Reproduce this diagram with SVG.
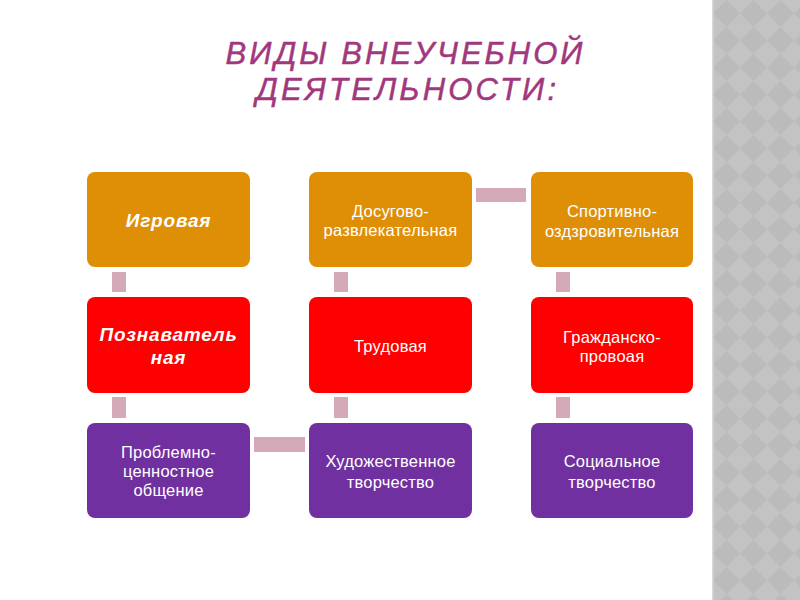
<svg xmlns="http://www.w3.org/2000/svg" width="800" height="600" viewBox="0 0 800 600">
<defs>
<style>
.box{stroke:none}
.or{fill:#de8f06}
.rd{fill:#fe0000}
.pu{fill:#7030a0}
.t{font-family:"Liberation Sans",Arial,sans-serif;font-size:16.5px;fill:#ffffff;text-anchor:middle;letter-spacing:0.2px}
.bi{font-weight:bold;font-style:italic;font-size:19px;letter-spacing:0.8px}
.title{font-family:"Liberation Sans",Arial,sans-serif;font-style:italic;font-size:31px;fill:#a1377d;stroke:#a1377d;stroke-width:0.5px;text-anchor:middle}
.con{fill:#d4aab8}
</style>
<pattern id="dia" width="27" height="27" patternUnits="userSpaceOnUse" x="713" y="0">
<rect width="27" height="27" fill="#c3c3c3"/>
<path d="M13.5 0 L27 13.5 L13.5 27 L0 13.5 Z" fill="#bbbbbb"/>
</pattern>
</defs>
<rect width="800" height="600" fill="#ffffff"/>
<rect x="713" y="0" width="87" height="600" fill="url(#dia)"/>
<rect x="712" y="0" width="1.5" height="600" fill="#d8d8d8"/>
<g id="title">
<text class="title" x="404" y="64" textLength="357" lengthAdjust="spacing">ВИДЫ ВНЕУЧЕБНОЙ</text>
<text class="title" x="406" y="100" textLength="300" lengthAdjust="spacing">ДЕЯТЕЛЬНОСТИ:</text>
</g>
<g id="connectors">
<rect class="con" x="112" y="272" width="14" height="20"/>
<rect class="con" x="112" y="397" width="14" height="21"/>
<rect class="con" x="254" y="437" width="51" height="15"/>
<rect class="con" x="334" y="272" width="14" height="20"/>
<rect class="con" x="334" y="397" width="14" height="21"/>
<rect class="con" x="476" y="188" width="50" height="14"/>
<rect class="con" x="556" y="272" width="14" height="20"/>
<rect class="con" x="556" y="397" width="14" height="21"/>
</g>
<g id="n1"><rect class="box or" x="87" y="172" width="163" height="95" rx="8"/><text class="t bi" x="168.5" y="227">Игровая</text></g>
<g id="n2"><rect class="box rd" x="87" y="297" width="163" height="96" rx="8"/><text class="t bi" x="168.5" y="341">Познаватель</text><text class="t bi" x="168.5" y="364">ная</text></g>
<g id="n3"><rect class="box pu" x="87" y="423" width="163" height="95" rx="8"/><text class="t" x="168.5" y="458">Проблемно-</text><text class="t" x="168.5" y="477">ценностное</text><text class="t" x="168.5" y="496">общение</text></g>
<g id="n4"><rect class="box or" x="309" y="172" width="163" height="95" rx="8"/><text class="t" x="390.5" y="217">Досугово-</text><text class="t" x="390.5" y="236">развлекательная</text></g>
<g id="n5"><rect class="box rd" x="309" y="297" width="163" height="96" rx="8"/><text class="t" x="390.5" y="352">Трудовая</text></g>
<g id="n6"><rect class="box pu" x="309" y="423" width="163" height="95" rx="8"/><text class="t" x="390.5" y="467">Художественное</text><text class="t" x="390.5" y="488">творчество</text></g>
<g id="n7"><rect class="box or" x="531" y="172" width="162" height="95" rx="8"/><text class="t" x="612" y="217">Спортивно-</text><text class="t" x="612" y="237">оздзровительная</text></g>
<g id="n8"><rect class="box rd" x="531" y="297" width="162" height="96" rx="8"/><text class="t" x="612" y="343">Гражданско-</text><text class="t" x="612" y="362">провоая</text></g>
<g id="n9"><rect class="box pu" x="531" y="423" width="162" height="95" rx="8"/><text class="t" x="612" y="467">Социальное</text><text class="t" x="612" y="488">творчество</text></g>
</svg>
